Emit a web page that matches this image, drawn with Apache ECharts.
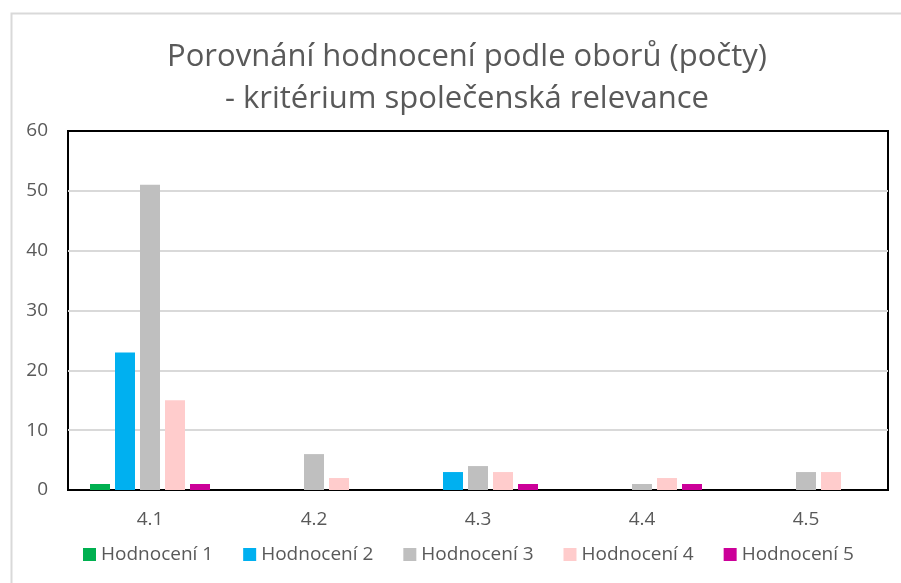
<!DOCTYPE html>
<html>
<head>
    <meta charset="utf-8">
    <script src="https://cdn.jsdelivr.net/npm/echarts@6/dist/echarts.min.js"></script>
    <style>
        html, body { margin: 0; padding: 0; background: #fff; }
    </style>
</head>
<body>
    <div id="main" style="width:901px;height:583px"></div>
    <script type="text/javascript">
        // data
        var categories = ['4.1', '4.2', '4.3', '4.4', '4.5'];
        var seriesNames = ['Hodnocení 1', 'Hodnocení 2', 'Hodnocení 3', 'Hodnocení 4', 'Hodnocení 5'];
        var h1 = [1, 0, 0, 0, 0];
        var h2 = [23, 0, 3, 0, 0];
        var h3 = [51, 6, 4, 1, 3];
        var h4 = [15, 2, 3, 2, 3];
        var h5 = [1, 0, 1, 1, 0];
        var colors = ['#00B050', '#00B0F0', '#BFBFBF', '#FFCCCC', '#CC0099'];
        var yTicks = { min: 0, max: 60, interval: 10 };

        var font = '"Open Sans", "Noto Sans", sans-serif';
        var values = [h1, h2, h3, h4, h5];
        var series = [];
        for (var i = 0; i < values.length; i++) {
            series.push({
                name: seriesNames[i],
                type: 'bar',
                data: values[i],
                barWidth: 20,
                barGap: '25%',
                itemStyle: { color: colors[i] }
            });
        }

        var myChart = echarts.init(document.getElementById('main'));
        var option = {
            animation: false,
            color: colors,
            textStyle: { fontFamily: font },
            title: {
                text: 'Porovnání hodnocení podle oborů (počty)\n- kritérium společenská relevance',
                left: 462,
                textAlign: 'center',
                top: 31,
                textStyle: { color: '#595959', fontSize: 31, fontWeight: 'normal', lineHeight: 42, fontFamily: font }
            },
            legend: {
                top: 540,
                left: 78,
                itemWidth: 13,
                itemHeight: 13,
                itemGap: 30,
                icon: 'rect',
                textStyle: { color: '#595959', fontSize: 19, fontFamily: font }
            },
            grid: {
                left: 68, right: 13, top: 131, bottom: 93,
                show: true,
                backgroundColor: 'transparent',
                borderColor: '#000',
                borderWidth: 2,
                containLabel: false
            },
            xAxis: [{
                type: 'category',
                data: categories,
                axisTick: { show: false },
                axisLine: { show: true, lineStyle: { color: '#000', width: 2 } },
                axisLabel: { color: '#595959', fontSize: 19, margin: 20 }
            }, {
                type: 'category',
                position: 'top',
                data: categories,
                axisTick: { show: false },
                axisLabel: { show: false },
                axisLine: { show: true, lineStyle: { color: '#000', width: 2 } }
            }],
            yAxis: {
                type: 'value',
                min: yTicks.min,
                max: yTicks.max,
                interval: yTicks.interval,
                axisLine: { show: false },
                axisTick: { show: false },
                axisLabel: { color: '#595959', fontSize: 19, margin: 20 },
                splitLine: { lineStyle: { color: '#D9D9D9', width: 2 } }
            },
            graphic: [{
                type: 'rect',
                left: 9, top: 11,
                shape: { width: 900, height: 580 },
                style: { fill: 'none', stroke: '#D9D9D9', lineWidth: 2 },
                silent: true
            }],
            series: series
        };
        myChart.setOption(option);
    </script>
</body>
</html>
